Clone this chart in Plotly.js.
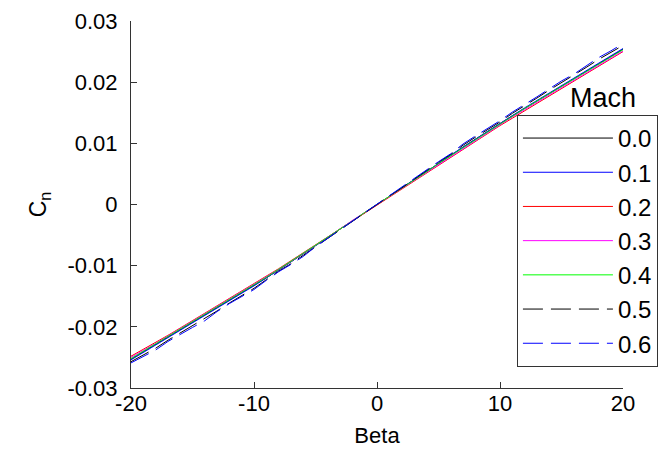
<!DOCTYPE html>
<html>
<head>
<meta charset="utf-8">
<script src="https://cdn.plot.ly/plotly-3.0.1.min.js"></script>
<style>
  html, body { margin: 0; padding: 0; background: #fff; }
  #plot { width: 659px; height: 454px; }
</style>
</head>
<body>
<div id="plot"></div>
<script>
// Sideslip angle (deg)
const beta = [-20,-19,-18,-17,-16,-15,-14,-13,-12,-11,-10,-9,-8,-7,-6,-5,-4,-3,-2,-1,0,
              1,2,3,4,5,6,7,8,9,10,11,12,13,14,15,16,17,18,19,20];

// Yawing-moment coefficient Cn for each Mach number
const cnM00 = [-0.0253,-0.0241,-0.0229,-0.0217,-0.0205,-0.0193,-0.0181,-0.0169,-0.0157,-0.0145,-0.0133,
               -0.0120,-0.0107,-0.0094,-0.0080,-0.0067,-0.0054,-0.0040,-0.0027,-0.0013,0.0000,
               0.0013,0.0027,0.0040,0.0054,0.0067,0.0080,0.0094,0.0107,0.0120,0.0133,
               0.0145,0.0157,0.0169,0.0181,0.0193,0.0205,0.0217,0.0229,0.0241,0.0254];
const cnM01 = [-0.0254,-0.0242,-0.0230,-0.0218,-0.0206,-0.0194,-0.0182,-0.0170,-0.0158,-0.0146,-0.0133,
               -0.0120,-0.0107,-0.0094,-0.0081,-0.0067,-0.0054,-0.0040,-0.0027,-0.0013,0.0000,
               0.0013,0.0027,0.0040,0.0054,0.0067,0.0081,0.0094,0.0107,0.0120,0.0133,
               0.0146,0.0158,0.0170,0.0182,0.0194,0.0206,0.0218,0.0230,0.0242,0.0255];
const cnM02 = [-0.0248,-0.0237,-0.0226,-0.0214,-0.0202,-0.0190,-0.0178,-0.0166,-0.0154,-0.0142,-0.0130,
               -0.0118,-0.0105,-0.0092,-0.0079,-0.0066,-0.0053,-0.0040,-0.0026,-0.0013,0.0000,
               0.0013,0.0026,0.0039,0.0052,0.0065,0.0078,0.0091,0.0104,0.0117,0.0129,
               0.0141,0.0153,0.0165,0.0177,0.0189,0.0201,0.0213,0.0225,0.0237,0.0250];
const cnM03 = [-0.0250,-0.0239,-0.0227,-0.0215,-0.0203,-0.0191,-0.0179,-0.0167,-0.0155,-0.0143,-0.0131,
               -0.0119,-0.0106,-0.0093,-0.0080,-0.0066,-0.0053,-0.0040,-0.0026,-0.0013,0.0000,
               0.0013,0.0026,0.0040,0.0053,0.0066,0.0079,0.0092,0.0105,0.0118,0.0131,
               0.0143,0.0155,0.0167,0.0179,0.0191,0.0203,0.0215,0.0227,0.0238,0.0251];
const cnM04 = [-0.0252,-0.0240,-0.0228,-0.0216,-0.0204,-0.0192,-0.0180,-0.0168,-0.0156,-0.0144,-0.0132,
               -0.0119,-0.0106,-0.0093,-0.0080,-0.0067,-0.0053,-0.0040,-0.0027,-0.0013,0.0000,
               0.0013,0.0027,0.0040,0.0053,0.0067,0.0080,0.0093,0.0106,0.0119,0.0132,
               0.0145,0.0157,0.0169,0.0181,0.0193,0.0205,0.0217,0.0229,0.0241,0.0253];
const cnM05 = [-0.0257,-0.0246,-0.0235,-0.0222,-0.0210,-0.0199,-0.0187,-0.0174,-0.0161,-0.0149,-0.0137,
               -0.0123,-0.0109,-0.0097,-0.0083,-0.0069,-0.0055,-0.0041,-0.0027,-0.0013,0.0000,
               0.0014,0.0027,0.0041,0.0056,0.0069,0.0082,0.0097,0.0110,0.0122,0.0135,
               0.0149,0.0161,0.0174,0.0187,0.0199,0.0211,0.0224,0.0237,0.0248,0.0260];
const cnM06 = [-0.0259,-0.0249,-0.0238,-0.0224,-0.0212,-0.0201,-0.0190,-0.0175,-0.0162,-0.0151,-0.0139,
               -0.0124,-0.0110,-0.0098,-0.0085,-0.0069,-0.0055,-0.0042,-0.0028,-0.0013,0.0000,
               0.0014,0.0028,0.0042,0.0057,0.0070,0.0083,0.0099,0.0112,0.0124,0.0137,
               0.0151,0.0163,0.0176,0.0189,0.0202,0.0213,0.0227,0.0240,0.0251,0.0263];

const machLabels = ['0.0','0.1','0.2','0.3','0.4','0.5','0.6'];
const cnSeries   = [cnM00, cnM01, cnM02, cnM03, cnM04, cnM05, cnM06];
const lineColors = ['#000000','#0000ff','#ff0000','#ff00ff','#00ff00','#000000','#0000ff'];
const lineDashes = ['solid','solid','solid','solid','solid','20px,8px','20px,8px'];

const traces = machLabels.map((m, i) => ({
  type: 'scatter',
  mode: 'lines',
  x: beta,
  y: cnSeries[i],
  name: m,
  legendgroup: 'g' + i,
  line: { color: lineColors[i], width: 1, dash: lineDashes[i] }
}));

const FONT = 'Liberation Sans, Arial, Helvetica, sans-serif';

const layout = {
  width: 659,
  height: 454,
  margin: { l: 131, r: 36, t: 21, b: 66, autoexpand: false },
  paper_bgcolor: '#ffffff',
  plot_bgcolor: '#ffffff',
  font: { family: FONT, size: 22, color: '#000' },
  showlegend: true,
  xaxis: {
    range: [-20, 20],
    tickvals: [-20, -10, 0, 10, 20],
    ticktext: ['-20', '-10', '0', '10', '20'],
    ticks: 'inside',
    ticklen: 6,
    tickcolor: '#333',
    showline: true,
    linecolor: '#333',
    linewidth: 1,
    showgrid: false,
    zeroline: false,
    mirror: false,
    ticklabelstandoff: -4,
    tickfont: { family: FONT, size: 22, color: '#000' },
    title: { text: 'Beta', font: { family: FONT, size: 22, color: '#000' }, standoff: 12 }
  },
  yaxis: {
    range: [-0.03, 0.03],
    tickvals: [-0.03, -0.02, -0.01, 0, 0.01, 0.02, 0.03],
    ticktext: ['-0.03', '-0.02', '-0.01', '0', '0.01', '0.02', '0.03'],
    ticks: 'inside',
    ticklen: 6,
    tickcolor: '#333',
    showline: true,
    linecolor: '#333',
    linewidth: 1,
    showgrid: false,
    zeroline: false,
    mirror: false,
    ticklabelstandoff: 8,
    tickfont: { family: FONT, size: 22, color: '#000' },
    title: { text: 'C<sub>n</sub>', font: { family: FONT, size: 23, color: '#000' }, standoff: 14 }
  },
  legend: {
    x: 1.071,
    xanchor: 'right',
    y: 0.744,
    yanchor: 'top',
    bgcolor: '#ffffff',
    bordercolor: '#333',
    borderwidth: 1,
    font: { family: FONT, size: 24, color: '#000' },
    itemwidth: 90,
    tracegroupgap: 3,
    traceorder: 'normal'
  },
  annotations: [{
    text: 'Mach',
    xref: 'paper', yref: 'paper',
    x: 0.96, y: 0.744,
    xanchor: 'center', yanchor: 'bottom',
    showarrow: false,
    font: { family: FONT, size: 27, color: '#000' }
  }]
};

Plotly.newPlot('plot', traces, layout, { staticPlot: true, displayModeBar: false });
</script>
</body>
</html>
